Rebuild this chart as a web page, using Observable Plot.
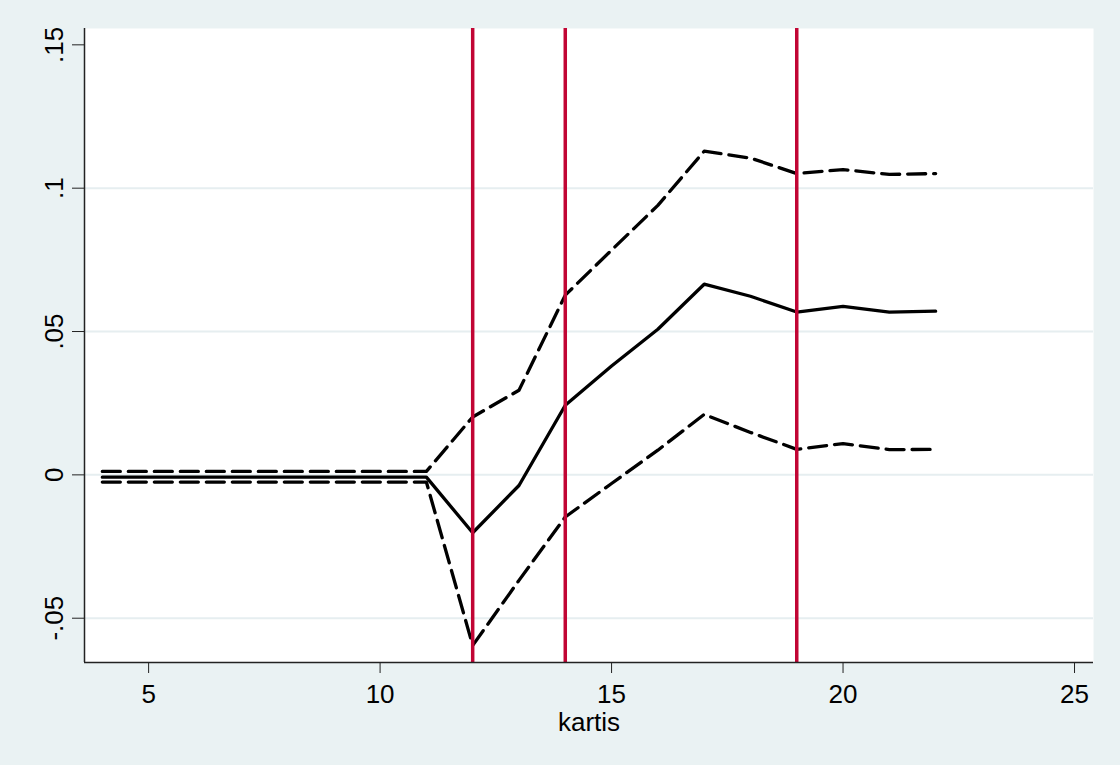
<!DOCTYPE html>
<html>
<head>
<meta charset="utf-8">
<script src="https://cdn.jsdelivr.net/npm/d3@7"></script>
<script src="https://cdn.jsdelivr.net/npm/@observablehq/plot@0.6"></script>
<style>
  html, body { margin: 0; padding: 0; background: #EAF2F3; }
  #chart { width: 1120px; height: 765px; }
</style>
</head>
<body>
<div id="chart"></div>
<script>
// ---- data ----
const kartis = [4, 5, 6, 7, 8, 9, 10, 11, 12, 13, 14, 15, 16, 17, 18, 19, 20, 21, 22];
const estimate = [-0.0008, -0.0008, -0.0008, -0.0008, -0.0008, -0.0008, -0.0008, -0.0008,
  -0.0202, -0.0037, 0.0243, 0.0380, 0.0508, 0.0665, 0.0623, 0.0568, 0.0588, 0.0568, 0.0571];
const upper = [0.0012, 0.0012, 0.0012, 0.0012, 0.0012, 0.0012, 0.0012, 0.0012,
  0.0202, 0.0295, 0.0627, 0.0784, 0.0940, 0.1129, 0.1105, 0.1051, 0.1065, 0.1048, 0.1051];
const lower = [-0.0025, -0.0025, -0.0025, -0.0025, -0.0025, -0.0025, -0.0025, -0.0025,
  -0.0595, -0.0368, -0.0147, -0.0030, 0.0086, 0.0211, 0.0148, 0.0089, 0.0109, 0.0088, 0.0089];
const refLines = [12, 14, 19];
const xTicks = [5, 10, 15, 20, 25];
const yTicks = [-0.05, 0, 0.05, 0.1, 0.15];
const yGrid = [-0.05, 0, 0.05, 0.1];
const xLabel = "kartis";

const xDomain = [3.615, 25.41];
const yDomain = [-0.06545, 0.1557];

const rows = kartis.map((k, i) => ({k, est: estimate[i], hi: upper[i], lo: lower[i]}));
const fmtY = d => d === 0 ? "0" : String(d).replace("0.", ".");

const font = "'Liberation Sans', Arial, Helvetica, sans-serif";
const axisColor = "#222";

const chart = Plot.plot({
  width: 1120,
  height: 765,
  marginLeft: 84,
  marginRight: 27,
  marginTop: 28,
  marginBottom: 103,
  style: {background: "#EAF2F3", fontFamily: font, fontSize: "26px", color: "black"},
  x: {domain: xDomain, label: null},
  y: {domain: yDomain, label: null},
  marks: [
    Plot.frame({fill: "white", stroke: "none"}),
    Plot.ruleY(yGrid, {stroke: "#E6EEF0", strokeWidth: 2}),
    Plot.line(rows, {x: "k", y: "hi", stroke: "black", strokeWidth: 3.3, strokeDasharray: "18,8", strokeLinecap: "round", strokeLinejoin: "round"}),
    Plot.line(rows, {x: "k", y: "lo", stroke: "black", strokeWidth: 3.3, strokeDasharray: "18,8", strokeLinecap: "round", strokeLinejoin: "round"}),
    Plot.line(rows, {x: "k", y: "est", stroke: "black", strokeWidth: 3.3, strokeLinecap: "round", strokeLinejoin: "round"}),
    Plot.ruleX(refLines, {stroke: "#C10534", strokeWidth: 3.5}),
    Plot.ruleX([xDomain[0]], {stroke: axisColor, strokeWidth: 1.5}),
    Plot.ruleY([yDomain[0]], {stroke: axisColor, strokeWidth: 1.5}),
    Plot.axisY({ticks: yTicks, tickSize: 12, tickRotate: -90, tickPadding: 10, tickFormat: fmtY, fontSize: 26, stroke: axisColor, label: null}),
    Plot.axisX({ticks: xTicks, tickSize: 11, tickPadding: 11, tickFormat: d => String(d), fontSize: 26, stroke: axisColor, label: null}),
    Plot.text([xLabel], {frameAnchor: "bottom", text: d => d, dy: 60, lineAnchor: "middle", fontSize: 26, fill: "black"})
  ]
});
document.getElementById("chart").appendChild(chart);
</script>
</body>
</html>
